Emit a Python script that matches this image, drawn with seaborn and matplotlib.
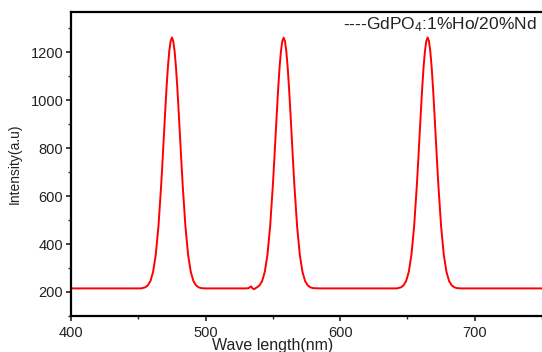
import pandas as pd
import matplotlib
matplotlib.use("Agg")
import matplotlib.pyplot as plt
from matplotlib.ticker import MultipleLocator
import seaborn as sns

# spectrum (wavelength in nm, intensity in a.u.)
wavelength = [400, 452,
              455, 457, 459, 461, 463, 465, 467, 468, 469, 470, 471, 472, 473, 474, 475,
              476, 477, 478, 479, 480, 481, 482, 483, 485, 487, 489, 491, 493, 495, 497,
              500, 530, 532, 533, 534, 535, 536, 537,
              538, 540, 542, 544, 546, 548, 550, 551, 552, 553, 554, 555, 556, 557, 558,
              559, 560, 561, 562, 563, 564, 565, 566, 568, 570, 572, 574, 576, 578, 580,
              585, 642,
              645, 647, 649, 651, 653, 655, 657, 658, 659, 660, 661, 662, 663, 664, 665,
              666, 667, 668, 669, 670, 671, 672, 673, 675, 677, 679, 681, 683, 685, 687,
              690, 750]
intensity = [215, 215,
             219, 227, 245, 284, 356, 475, 645, 744, 849, 953, 1052, 1137, 1203, 1245, 1261,
             1245, 1203, 1137, 1052, 953, 849, 744, 645, 475, 356, 284, 245, 227, 219, 216,
             215, 215, 216, 221, 223, 214, 212, 215,
             219, 227, 245, 284, 356, 475, 645, 744, 849, 953, 1052, 1137, 1203, 1245, 1260,
             1245, 1203, 1137, 1052, 953, 849, 744, 645, 475, 356, 284, 245, 227, 219, 216,
             215, 215,
             219, 227, 245, 284, 356, 475, 645, 744, 849, 953, 1052, 1137, 1203, 1245, 1261,
             1245, 1203, 1137, 1052, 953, 849, 744, 645, 475, 356, 284, 245, 227, 219, 216,
             215, 215]
sample_label = "----GdPO$_4$:1%Ho/20%Nd"

df = pd.DataFrame({"Wavelength": wavelength, "Intensity": intensity})

sns.set_theme(style="ticks")
plt.rcParams["font.family"] = ["Liberation Sans", "DejaVu Sans"]
plt.rcParams["mathtext.fontset"] = "custom"
plt.rcParams["mathtext.rm"] = "Liberation Sans"
plt.rcParams["mathtext.default"] = "regular"

fig = plt.figure(figsize=(5.42, 3.52), dpi=100, facecolor="white")
ax = fig.add_axes([0.131, 0.1023, 0.869, 0.865])

sns.lineplot(data=df, x="Wavelength", y="Intensity", ax=ax, color="#ff0000",
             linewidth=1.4, estimator=None, sort=False)

ax.set_xlim(400, 750)
ax.set_ylim(100, 1369)
ax.xaxis.set_major_locator(MultipleLocator(100))
ax.xaxis.set_minor_locator(MultipleLocator(50))
ax.yaxis.set_major_locator(MultipleLocator(200))
ax.yaxis.set_minor_locator(MultipleLocator(100))
ax.set_yticks([200, 400, 600, 800, 1000, 1200])

ax.tick_params(which="major", direction="out", length=3.5, width=1.2, pad=2,
               labelsize=10.5, colors="#222222")
ax.tick_params(which="minor", direction="out", length=2, width=1.0)
ax.tick_params(axis="x", which="major", pad=4)

for side in ["left", "bottom", "top"]:
    ax.spines[side].set_linewidth(1.6)
    ax.spines[side].set_color("black")
ax.spines["right"].set_visible(False)

ax.set_xlabel("Wave length(nm)", fontsize=11.5, color="#222222")
ax.set_ylabel("Intensity(a.u)", fontsize=10, color="#222222")
ax.xaxis.set_label_coords(0.429, -0.072)
ax.yaxis.set_label_coords(-0.105, 0.5)

ax.text(0.577, 0.956, sample_label, transform=ax.transAxes, ha="left", va="center",
        fontsize=12.5, color="#222222")

fig.savefig("out.png", dpi=100, facecolor="white")
